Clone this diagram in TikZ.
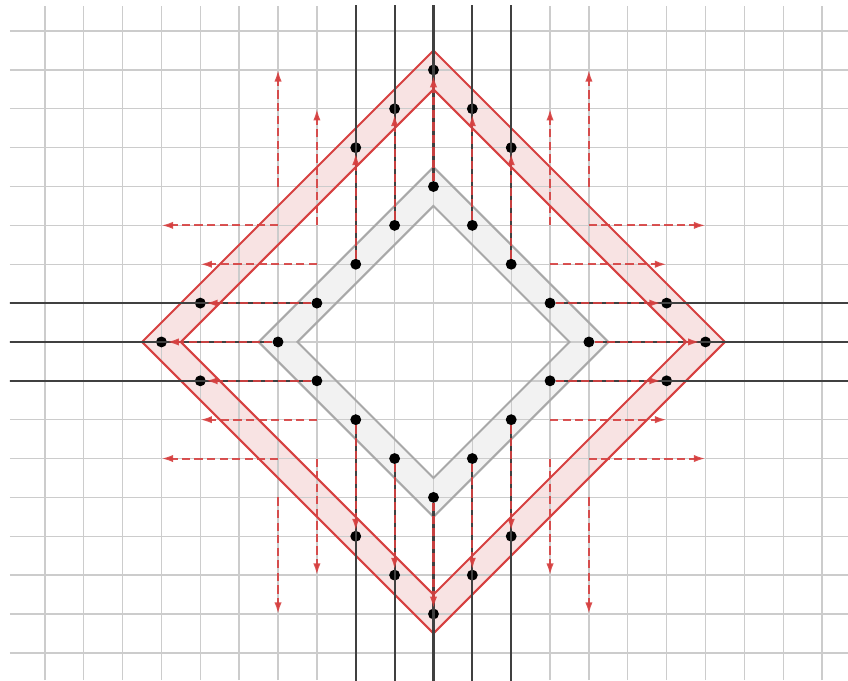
\documentclass[tikz,border=0pt]{standalone}
\usepackage{xcolor}
\usepackage{tikz}
\usetikzlibrary{arrows.meta}

\definecolor{gridgray}{RGB}{204,204,204}
\definecolor{roadgray}{RGB}{64,64,64}
\definecolor{ringred}{RGB}{214,64,64}
\definecolor{ringpink}{RGB}{248,227,227}
\definecolor{coregray}{RGB}{168,168,168}
\definecolor{corefill}{RGB}{242,242,242}

\begin{document}
\begin{tikzpicture}[>={Latex[length=3mm,width=1.9mm]},
    gridline/.style={draw=gridgray, line width=1pt},
    road/.style={draw=roadgray, line width=1.6pt},
    flow/.style={->, draw=ringred, draw opacity=0.9, line width=1.5pt, dash pattern=on 6pt off 3.2pt},
    dot/.style={circle, fill=black, inner sep=0pt, minimum size=2.8mm}]
    \useasboundingbox (-11.155,-8.70) rectangle (10.667,8.80);

    \fill[corefill, even odd rule] (0,4.5) -- (4.5,0) -- (0,-4.5) -- (-4.5,0) -- cycle
        (0,3.5) -- (3.5,0) -- (0,-3.5) -- (-3.5,0) -- cycle;
    \fill[ringpink, even odd rule] (0,7.5) -- (7.5,0) -- (0,-7.5) -- (-7.5,0) -- cycle
        (0,6.5) -- (6.5,0) -- (0,-6.5) -- (-6.5,0) -- cycle;

    \draw[gridline] (-10.9,-8.70) grid (10.667,8.646);

    \draw[coregray, line width=1.5pt] (0,4.5) -- (4.5,0) -- (0,-4.5) -- (-4.5,0) -- cycle;
    \draw[coregray, line width=1.5pt] (0,3.5) -- (3.5,0) -- (0,-3.5) -- (-3.5,0) -- cycle;
    \draw[ringred, line width=1.5pt] (0,7.5) -- (7.5,0) -- (0,-7.5) -- (-7.5,0) -- cycle;
    \draw[ringred, line width=1.5pt] (0,6.5) -- (6.5,0) -- (0,-6.5) -- (-6.5,0) -- cycle;

    \begin{scope}
        \clip (-10.9,-8.70) rectangle (10.667,8.646);
        \foreach \s/\side in {1/top, -1/bottom} {
            \foreach \x/\n in {-2/a, -1/b, 0/c, 1/d, 2/e} {
                \node[dot] (\side-in-\n) at (\x, {\s*(4-abs(\x))}) {};
                \node[dot] (\side-out-\n) at (\x, {\s*(7-abs(\x))}) {};
                \coordinate (\side-end-\n) at (\x, 9*\s);
                \draw[road] (\side-end-\n) -- (\side-in-\n);
                \draw[flow] (\side-in-\n) -- (\side-out-\n);
            }
        }
        \foreach \s/\side in {1/right, -1/left} {
            \foreach \y/\n in {1/a, 0/b, -1/c} {
                \node[dot] (\side-in-\n) at ({\s*(4-abs(\y))}, \y) {};
                \node[dot] (\side-out-\n) at ({\s*(7-abs(\y))}, \y) {};
                \coordinate (\side-end-\n) at (12*\s, \y);
                \draw[road] (\side-end-\n) -- (\side-in-\n);
                \draw[flow] (\side-in-\n) -- (\side-out-\n);
            }
        }
    \end{scope}

    \foreach \sx in {1,-1} {
        \foreach \sy in {1,-1} {
            \begin{scope}[xscale=\sx, yscale=\sy]
                \coordinate (far-up) at (4,4);
                \coordinate (far-up-tip) at (4,7);
                \coordinate (near-up) at (3,3);
                \coordinate (near-up-tip) at (3,6);
                \coordinate (far-side) at (4,3);
                \coordinate (far-side-tip) at (7,3);
                \coordinate (near-side) at (3,2);
                \coordinate (near-side-tip) at (6,2);
                \draw[flow] (far-up) -- (far-up-tip);
                \draw[flow] (near-up) -- (near-up-tip);
                \draw[flow] (far-side) -- (far-side-tip);
                \draw[flow] (near-side) -- (near-side-tip);
            \end{scope}
        }
    }
\end{tikzpicture}
\end{document}
